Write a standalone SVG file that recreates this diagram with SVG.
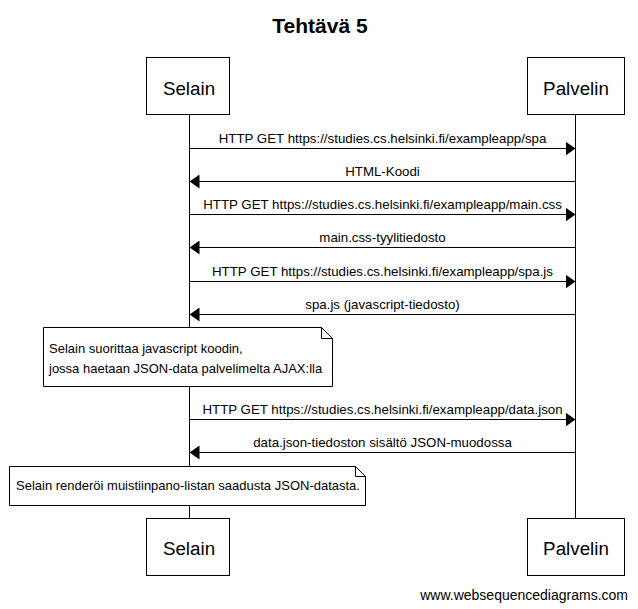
<svg xmlns="http://www.w3.org/2000/svg" width="638" height="609" viewBox="0 0 638 609">
<style>
text{font-family:"Liberation Sans",Arial,sans-serif;fill:#000}
.p rect{fill:#fff;stroke:#000;stroke-width:1}
.p text{font-size:18.8px;text-anchor:middle}
.lbl{font-size:13.3px;text-anchor:middle}
.note path{fill:#fff;stroke:#000;stroke-width:1}
.note text{font-size:13px}
.msg{stroke:#000;stroke-width:1;fill:none}
.life{stroke:#000;stroke-width:1}
</style>
<defs>
<marker id="ah" viewBox="0 0 10 14" refX="10" refY="7" markerWidth="10" markerHeight="14" markerUnits="userSpaceOnUse" orient="auto">
<path d="M0,0 L10,7 L0,14 Z" fill="#000"/>
</marker>
</defs>
<rect width="638" height="609" fill="#fff"/>
<text x="320" y="33" font-size="21" font-weight="bold" text-anchor="middle">Tehtävä 5</text>
<g id="lifelines">
<line class="life" x1="189.5" y1="114" x2="189.5" y2="518"/>
<line class="life" x1="575.5" y1="114" x2="575.5" y2="518"/>
</g>
<g id="selain-top" class="p"><rect x="146.5" y="57.5" width="83" height="57"/><text x="189" y="95">Selain</text></g>
<g id="palvelin-top" class="p"><rect x="527.5" y="57.5" width="97" height="57"/><text x="576" y="95">Palvelin</text></g>
<g id="selain-bottom" class="p"><rect x="146.5" y="518.5" width="83" height="57"/><text x="189" y="555">Selain</text></g>
<g id="palvelin-bottom" class="p"><rect x="527.5" y="518.5" width="97" height="57"/><text x="576" y="555">Palvelin</text></g>
<g id="connectors">
<line class="msg" x1="189.5" y1="148.5" x2="575.5" y2="148.5" marker-end="url(#ah)"/>
<text class="lbl" x="382.5" y="143">HTTP GET https://studies.cs.helsinki.fi/exampleapp/spa</text>
<line class="msg" x1="575.5" y1="181.5" x2="189.5" y2="181.5" marker-end="url(#ah)"/>
<text class="lbl" x="382.5" y="176">HTML-Koodi</text>
<line class="msg" x1="189.5" y1="214.5" x2="575.5" y2="214.5" marker-end="url(#ah)"/>
<text class="lbl" x="382.5" y="209">HTTP GET https://studies.cs.helsinki.fi/exampleapp/main.css</text>
<line class="msg" x1="575.5" y1="247.5" x2="189.5" y2="247.5" marker-end="url(#ah)"/>
<text class="lbl" x="382.5" y="242">main.css-tyylitiedosto</text>
<line class="msg" x1="189.5" y1="281.5" x2="575.5" y2="281.5" marker-end="url(#ah)"/>
<text class="lbl" x="382.5" y="276">HTTP GET https://studies.cs.helsinki.fi/exampleapp/spa.js</text>
<line class="msg" x1="575.5" y1="314.5" x2="189.5" y2="314.5" marker-end="url(#ah)"/>
<text class="lbl" x="382.5" y="309">spa.js (javascript-tiedosto)</text>
<line class="msg" x1="189.5" y1="419.5" x2="575.5" y2="419.5" marker-end="url(#ah)"/>
<text class="lbl" x="382.5" y="414">HTTP GET https://studies.cs.helsinki.fi/exampleapp/data.json</text>
<line class="msg" x1="575.5" y1="452.5" x2="189.5" y2="452.5" marker-end="url(#ah)"/>
<text class="lbl" x="382.5" y="447">data.json-tiedoston sisältö JSON-muodossa</text>
</g>
<g id="note1" class="note">
<path d="M43.5,327.5 H321.5 L332.5,338.5 V386.5 H43.5 Z M321.5,327.5 V338.5 H332.5"/>
<text x="49" y="353">Selain suorittaa javascript koodin,</text>
<text x="49" y="373">jossa haetaan JSON-data palvelimelta AJAX:lla</text>
</g>
<g id="note2" class="note">
<path d="M9.5,466.5 H355.5 L365.5,476.5 V505.5 H9.5 Z M355.5,466.5 V476.5 H365.5"/>
<text x="16" y="490">Selain renderöi muistiinpano-listan saadusta JSON-datasta.</text>
</g>
<text x="628" y="600" font-size="14" text-anchor="end">www.websequencediagrams.com</text>
</svg>
